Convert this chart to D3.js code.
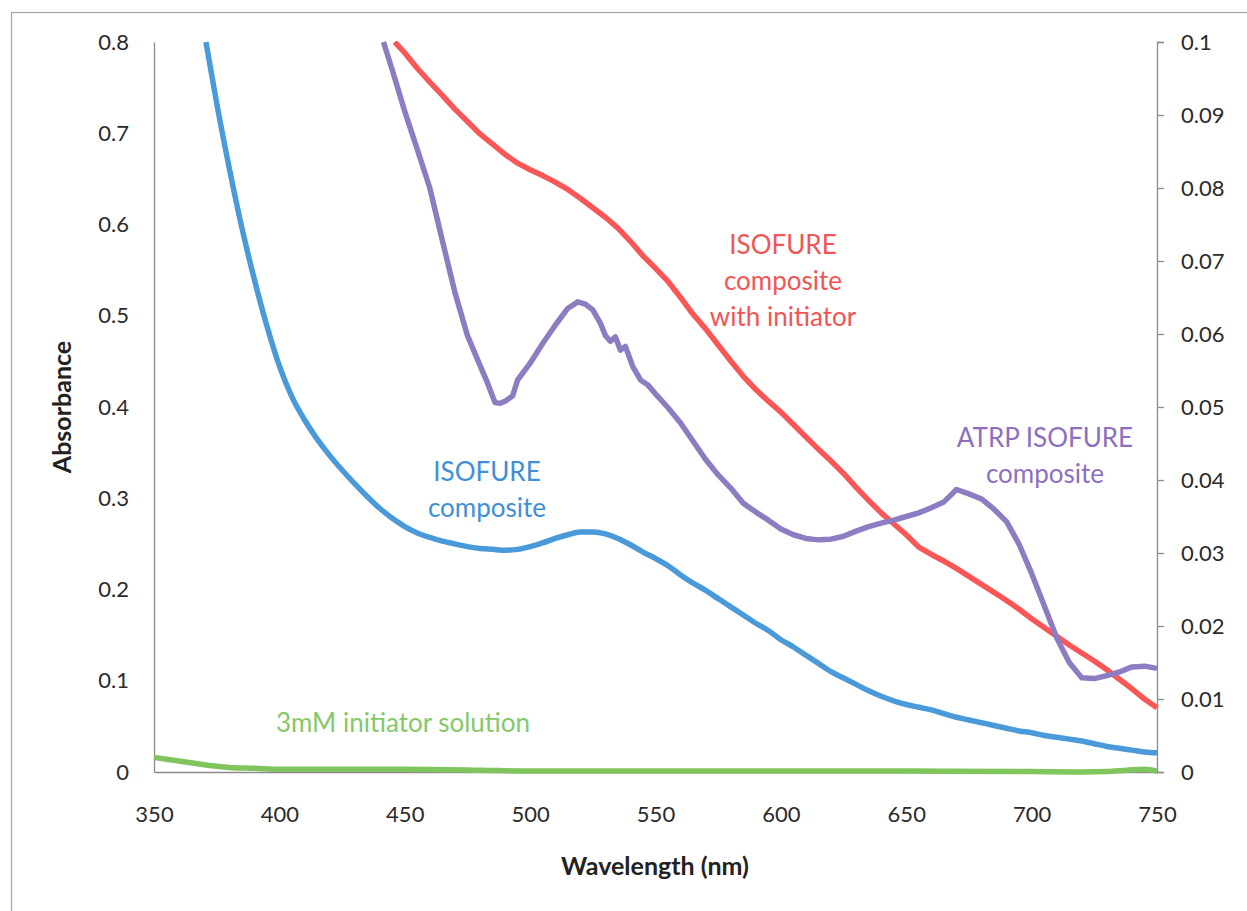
<!DOCTYPE html>
<html>
<head>
<meta charset="utf-8">
<script src="https://cdn.jsdelivr.net/npm/d3@7"></script>
<style>
  html, body { margin: 0; padding: 0; background: #ffffff; }
  svg { display: block; }
  text { font-family: Lato, "Open Sans", "Noto Sans", sans-serif; }
</style>
</head>
<body>
<svg id="chart" width="1247" height="911"></svg>
<script>
// ---- Data ----
const xTicks = [350, 400, 450, 500, 550, 600, 650, 700, 750];
const leftTicks = [0, 0.1, 0.2, 0.3, 0.4, 0.5, 0.6, 0.7, 0.8];
const rightTicks = [0, 0.01, 0.02, 0.03, 0.04, 0.05, 0.06, 0.07, 0.08, 0.09, 0.1];

// ISOFURE composite (left axis)
const blueWl = [370.7,375,380,385,390,395,400,405,410,415,420,425,430,435,440,445,450,455,460,465,470,475,480,485,490,495,500,505,510,515,520,525,530,535,540,545,550,555,560,565,570,575,580,585,590,595,600,605,610,615,620,625,630,635,640,645,650,655,660,665,670,675,680,685,690,695,700,705,710,715,720,725,730,735,740,745,750];
const blueAbs = [0.80,0.733,0.662,0.597,0.540,0.489,0.445,0.411,0.386,0.365,0.347,0.331,0.316,0.302,0.289,0.278,0.269,0.262,0.257,0.253,0.250,0.247,0.245,0.244,0.243,0.244,0.247,0.251,0.256,0.260,0.263,0.263,0.261,0.256,0.249,0.241,0.234,0.226,0.216,0.207,0.199,0.190,0.181,0.172,0.163,0.155,0.145,0.137,0.128,0.119,0.110,0.103,0.096,0.089,0.083,0.078,0.074,0.071,0.068,0.064,0.060,0.057,0.054,0.051,0.048,0.045,0.043,0.040,0.038,0.036,0.034,0.031,0.028,0.026,0.024,0.022,0.021];

// ISOFURE composite with initiator (right axis)
const redWl = [446,450,455,460,465,470,475,480,485,490,495,500,505,510,515,520,525,530,535,540,545,550,555,560,565,570,575,580,585,590,595,600,605,610,615,620,625,630,635,640,645,650,655,660,665,670,675,680,685,690,695,700,705,710,715,720,725,730,735,740,745,750];
const redAbs = [0.1000,0.0985,0.0964,0.0945,0.0927,0.0908,0.0891,0.0874,0.0860,0.0846,0.0834,0.0825,0.0817,0.0808,0.0798,0.0786,0.0773,0.0760,0.0745,0.0727,0.0707,0.0690,0.0672,0.0650,0.0627,0.0607,0.0585,0.0563,0.0542,0.0524,0.0508,0.0493,0.0476,0.0459,0.0442,0.0426,0.0409,0.0390,0.0372,0.0355,0.0340,0.0325,0.0308,0.0298,0.0289,0.0279,0.0268,0.0257,0.0246,0.0235,0.0223,0.0210,0.0198,0.0186,0.0174,0.0163,0.0152,0.0140,0.0127,0.0114,0.0100,0.0088];

// ATRP ISOFURE composite (right axis)
const purpleWl = [441.5,445,450,455,460,465,470,475,480,483,486,488,490,493,495,500,505,510,515,519,522,525,528,530,532,534,536,538,541,544,547,550,555,560,565,570,575,580,585,590,595,600,605,610,615,620,625,630,635,640,645,650,655,660,665,668,670,675,680,685,690,695,700,705,710,715,720,725,730,735,740,745,750];
const purpleAbs = [0.100,0.0962,0.0905,0.0853,0.0800,0.0728,0.0657,0.0598,0.0557,0.0533,0.0506,0.0505,0.0508,0.0515,0.0537,0.0560,0.0587,0.0612,0.0635,0.0644,0.0641,0.0633,0.0615,0.0598,0.0590,0.0596,0.0578,0.0583,0.0555,0.0537,0.0530,0.0518,0.0499,0.0478,0.0453,0.0428,0.0407,0.0389,0.0368,0.0356,0.0345,0.0333,0.0325,0.0320,0.0318,0.0319,0.0323,0.0330,0.0336,0.0341,0.0345,0.0350,0.0355,0.0362,0.0370,0.0380,0.0387,0.0381,0.0374,0.0360,0.0343,0.0312,0.0272,0.0228,0.0184,0.0150,0.0129,0.0128,0.0132,0.0137,0.0144,0.0145,0.0142];

// 3mM initiator solution (left axis)
const greenWl = [350,360,370,380,390,400,420,450,480,500,550,600,650,700,720,730,738,745,750];
const greenAbs = [0.016,0.012,0.008,0.005,0.004,0.003,0.003,0.003,0.002,0.001,0.001,0.001,0.001,0.0005,0.0,0.0005,0.002,0.003,0.001];

// ---- Layout ----
const svg = d3.select("#chart");
const X0 = 154, X1 = 1157, Y0 = 772, Y1 = 42;

const x = d3.scaleLinear().domain([350, 750]).range([X0, X1]);
const yL = d3.scaleLinear().domain([0, 0.8]).range([Y0, Y1]);
const yR = d3.scaleLinear().domain([0, 0.1]).range([Y0, Y1]);

// outer frame
svg.append("rect").attr("x", 11.5).attr("y", 12.5).attr("width", 1260).attr("height", 940)
  .attr("fill", "none").attr("stroke", "#a8a2a8").attr("stroke-width", 1.2);

const axisColor = "#8a8a8a";
const tickColor = "#2a2a2a";
const tickFont = 22;

// left axis (no tick marks)
const gL = svg.append("g").attr("transform", `translate(${X0},0)`)
  .call(d3.axisLeft(yL).tickValues(leftTicks).tickSize(0).tickPadding(25)
    .tickFormat(d => d === 0 ? "0" : d3.format(".1f")(d)));
gL.select(".domain").attr("stroke", axisColor).attr("stroke-width", 1.3);
gL.selectAll("text").attr("font-size", tickFont).attr("fill", tickColor)
  .style("font-family", "Lato, 'Open Sans', sans-serif");

// right axis (outward ticks)
const gR = svg.append("g").attr("transform", `translate(${X1},0)`)
  .call(d3.axisRight(yR).tickValues(rightTicks).tickSize(7).tickPadding(17)
    .tickFormat(d => d === 0 ? "0" : String(+d.toFixed(2))));
gR.select(".domain").attr("stroke", axisColor).attr("stroke-width", 1.3);
gR.selectAll(".tick line").attr("stroke", axisColor).attr("stroke-width", 1.3);
gR.selectAll("text").attr("font-size", tickFont).attr("fill", tickColor)
  .style("font-family", "Lato, 'Open Sans', sans-serif");

// bottom axis (no tick marks)
const gB = svg.append("g").attr("transform", `translate(0,${Y0})`)
  .call(d3.axisBottom(x).tickValues(xTicks).tickSize(0).tickPadding(34).tickFormat(d3.format("d")));
gB.select(".domain").attr("stroke", axisColor).attr("stroke-width", 1.3);
gB.selectAll("text").attr("font-size", tickFont).attr("fill", tickColor)
  .style("font-family", "Lato, 'Open Sans', sans-serif");

// axis titles
svg.append("text").attr("x", 655).attr("y", 875).attr("text-anchor", "middle")
  .attr("font-size", 25).attr("font-weight", "bold").attr("fill", "#222").text("Wavelength (nm)");
svg.append("text").attr("transform", "translate(71,407) rotate(-90)").attr("text-anchor", "middle")
  .attr("font-size", 25).attr("font-weight", "bold").attr("fill", "#222").text("Absorbance");

// clip
svg.append("clipPath").attr("id", "plotclip").append("rect")
  .attr("x", X0 - 2).attr("y", Y1 - 1).attr("width", X1 - X0 + 4).attr("height", Y0 - Y1 + 4);

const plot = svg.append("g").attr("clip-path", "url(#plotclip)");

function drawSeries(wl, ab, yScale, color, curve, width) {
  const data = wl.map((w, i) => [w, ab[i]]);
  plot.append("path").datum(data)
    .attr("fill", "none").attr("stroke", color).attr("stroke-width", width)
    .attr("stroke-linejoin", "round").attr("stroke-linecap", "butt")
    .attr("d", d3.line().x(d => x(d[0])).y(d => yScale(d[1])).curve(curve));
}

drawSeries(greenWl, greenAbs, yL, "#80c45e", d3.curveMonotoneX, 5.5);
drawSeries(blueWl, blueAbs, yL, "#4a9ad9", d3.curveMonotoneX, 5.5);
drawSeries(redWl, redAbs, yR, "#fa5656", d3.curveLinear, 5.5);
drawSeries(purpleWl, purpleAbs, yR, "#8d7cc2", d3.curveLinear, 5.5);

// series labels
function label(lines, cx, firstBaseline, color, lh, size) {
  lines.forEach((t, i) => {
    svg.append("text").attr("x", cx).attr("y", firstBaseline + i * lh)
      .attr("text-anchor", "middle").attr("font-size", size).attr("fill", color).text(t);
  });
}
label(["ISOFURE", "composite"], 487, 481, "#3e8fd6", 36, 26);
label(["ISOFURE", "composite", "with initiator"], 783, 254, "#f25555", 36, 26);
label(["ATRP ISOFURE", "composite"], 1045, 447, "#8d6fc0", 36, 26);
label(["3mM initiator solution"], 403, 732, "#84c867", 0, 26);
</script>
</body>
</html>
